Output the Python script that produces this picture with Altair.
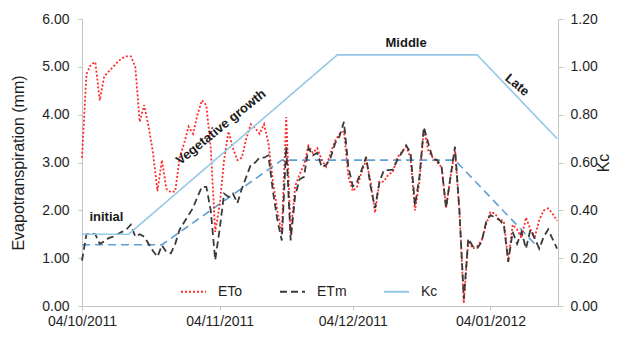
import altair as alt
import pandas as pd

# Daily reference (ETo) and maximum (ETm) evapotranspiration, mm/day, from 4 Oct 2011
start_date = "2011-10-04"
eto = [3.10, 4.85, 5.05, 5.10, 4.30, 4.80, 4.90, 5.00, 5.10, 5.18,
       5.22, 5.22, 5.00, 3.85, 4.20, 3.75, 3.20, 2.40, 3.05, 2.45,
       2.38, 2.40, 3.10, 3.40, 3.75, 3.60, 4.00, 4.30, 4.20, 3.30,
       1.55, 2.10, 3.05, 3.65, 3.30, 3.05, 3.10, 3.50, 3.80, 3.72,
       3.60, 3.80, 3.40, 2.60, 2.00, 1.50, 3.95, 1.50, 2.50, 2.75,
       2.95, 3.35, 3.20, 3.30, 3.05, 2.91, 3.20, 3.45, 3.60, 3.65,
       2.70, 2.40, 2.50, 2.80, 3.05, 2.60, 1.95, 2.60, 2.60, 2.75,
       2.80, 3.10, 3.22, 3.33, 3.10, 2.00, 2.60, 3.70, 3.25, 3.10,
       3.00, 2.90, 2.05, 2.70, 3.26, 2.00, 0.06, 1.37, 1.20, 1.25,
       1.37, 1.70, 1.97, 1.93, 1.80, 1.78, 0.96, 1.70, 1.60, 1.42,
       1.85, 1.60, 1.45, 1.80, 2.00, 2.04, 1.93, 1.78]
etm = [0.95, 1.50, 1.52, 1.50, 1.30, 1.35, 1.42, 1.45, 1.50, 1.55,
       1.60, 1.70, 1.45, 1.50, 1.45, 1.30, 1.15, 1.03, 1.27, 1.13,
       1.10, 1.30, 1.60, 1.75, 1.90, 2.05, 2.28, 2.49, 2.49, 2.00,
       0.96, 1.60, 2.35, 2.28, 2.35, 2.15, 2.45, 2.70, 2.95, 3.00,
       3.10, 3.10, 3.15, 2.40, 1.80, 1.37, 3.33, 1.37, 2.30, 2.65,
       2.70, 3.30, 3.15, 3.20, 2.90, 2.95, 3.10, 3.40, 3.55, 3.85,
       2.90, 2.50, 2.60, 2.85, 3.12, 2.50, 2.05, 2.60, 2.84, 2.84,
       2.85, 3.05, 3.20, 3.36, 3.20, 2.10, 2.70, 3.74, 3.40, 3.08,
       3.05, 2.90, 2.05, 2.70, 3.33, 2.00, 0.15, 1.41, 1.25, 1.20,
       1.34, 1.75, 1.90, 1.85, 1.80, 1.70, 0.92, 1.55, 1.30, 1.55,
       1.20, 1.60, 1.40, 1.20, 1.45, 1.60, 1.40, 1.20]
dates = pd.date_range(start_date, periods=len(eto), freq="D").strftime("%Y-%m-%d").tolist()

# Crop coefficient by growth stage (right axis)
kc_dates = ["2011-10-04", "2011-10-14T12:00:00Z", "2011-11-30T12:00:00Z", "2012-01-01", "2012-01-19"]
kc_values = [0.30, 0.30, 1.05, 1.05, 0.70]

# Stage curve expressed in mm (dashed blue)
stage_mm_dates = ["2011-10-04", "2011-10-22", "2011-11-18", "2011-12-27", "2012-01-15"]
stage_mm_values = [1.28, 1.28, 3.05, 3.05, 1.20]

# Growth stage names and where they sit
stage_names = ["initial", "Vegetative growth", "Middle", "Late"]
stage_dates = ["2011-10-09T12:00:00Z", "2011-11-04T07:00:00Z", "2011-12-16", "2012-01-10"]
stage_y = [1.86, 3.74, 5.49, 4.62]

series_names = ["ETo", "ETm", "Kc"]
series_colors = ["#ff2a2a", "#3a3a3a", "#93c9e6"]
series_dashes = [[2, 2], [7, 4], [1, 0]]

FONT = "Liberation Sans, Arial, sans-serif"
AXIS_GRAY = "#c4c4c4"
LABEL = "#1e1e1e"

n = len(eto)
et_df = pd.DataFrame({
    "date": dates + dates,
    "value": eto + etm,
    "series": ["ETo"] * n + ["ETm"] * n,
})
kc_df = pd.DataFrame({"date": kc_dates, "value": kc_values, "series": ["Kc"] * len(kc_dates)})
stage_mm_df = pd.DataFrame({"date": stage_mm_dates, "value": stage_mm_values})
label_df = pd.DataFrame({"date": stage_dates, "value": stage_y, "name": stage_names})

x_enc = alt.X(
    "date:T",
    scale=alt.Scale(
        type="utc",
        domain=[alt.DateTime(year=2011, month=10, date=4, utc=True),
                alt.DateTime(year=2012, month=1, date=19, hours=5, utc=True)],
    ),
    axis=alt.Axis(
        values=[alt.DateTime(year=2011, month=10, date=4, utc=True),
                alt.DateTime(year=2011, month=11, date=4, utc=True),
                alt.DateTime(year=2011, month=12, date=4, utc=True),
                alt.DateTime(year=2012, month=1, date=4, utc=True)],
        format="%d/%m/%Y", title=None, grid=False, labelFlush=False,
        labelFontSize=14, labelFont=FONT, labelColor=LABEL, labelPadding=4,
        tickSize=4, tickColor=AXIS_GRAY, domainColor=AXIS_GRAY,
    ),
)

left_axis = alt.Axis(
    values=[0, 1, 2, 3, 4, 5, 6], format=".2f", title="Evapotranspiration (mm)",
    grid=False, labelFontSize=14, labelFont=FONT, labelColor=LABEL, labelPadding=9,
    tickSize=4, tickColor=AXIS_GRAY, domainColor=AXIS_GRAY,
    titleFont=FONT, titleFontSize=16, titleFontWeight="normal", titleColor=LABEL,
    titlePadding=15,
)


def y_left():
    return alt.Y("value:Q", scale=alt.Scale(domain=[0, 6], nice=False), axis=left_axis)


legend = alt.Legend(
    title=None, orient="none", legendX=98, legendY=259, direction="horizontal",
    symbolType="stroke", symbolSize=625, symbolStrokeWidth=2,
    labelFontSize=14, labelFont=FONT, labelColor=LABEL, labelOffset=11,
    columnPadding=33,
)
color_enc = alt.Color("series:N", scale=alt.Scale(domain=series_names, range=series_colors), legend=legend)
dash_enc = alt.StrokeDash("series:N", scale=alt.Scale(domain=series_names, range=series_dashes), legend=legend)

et_lines = alt.Chart(et_df).mark_line(strokeWidth=1.8).encode(
    x=x_enc, y=y_left(), color=color_enc, strokeDash=dash_enc,
    detail="series:N",
)

stage_mm_line = alt.Chart(stage_mm_df).mark_line(
    color="#5e9fd6", strokeWidth=1.6, strokeDash=[8, 5]
).encode(x=x_enc, y=y_left())

text_style = dict(font=FONT, fontSize=13, fontWeight="bold", color="#1a1a1a")
upright = alt.Chart(label_df).transform_filter(
    alt.FieldOneOfPredicate(field="name", oneOf=["initial", "Middle"])
).mark_text(**text_style).encode(x=x_enc, y=y_left(), text="name:N")
rising = alt.Chart(label_df).transform_filter(
    alt.FieldEqualPredicate(field="name", equal="Vegetative growth")
).mark_text(angle=321, **text_style).encode(x=x_enc, y=y_left(), text="name:N")
falling = alt.Chart(label_df).transform_filter(
    alt.FieldEqualPredicate(field="name", equal="Late")
).mark_text(angle=40, **text_style).encode(x=x_enc, y=y_left(), text="name:N")

left = alt.layer(stage_mm_line, et_lines, upright, rising, falling)

kc_line = alt.Chart(kc_df).mark_line(strokeWidth=1.6).encode(
    x=x_enc,
    y=alt.Y(
        "value:Q", scale=alt.Scale(domain=[0, 1.2], nice=False),
        axis=alt.Axis(
            orient="right", values=[0, 0.2, 0.4, 0.6, 0.8, 1.0, 1.2], format=".2f",
            title="Kc", grid=False, labelFontSize=14, labelFont=FONT, labelColor=LABEL,
            labelPadding=7, tickSize=5, tickColor=AXIS_GRAY, domainColor=AXIS_GRAY,
            titleFont=FONT, titleFontSize=16, titleFontWeight="normal", titleColor=LABEL,
            titleAngle=270, titlePadding=14,
        ),
    ),
    color=color_enc, strokeDash=dash_enc,
)

chart = alt.layer(left, kc_line).resolve_scale(y="independent").properties(
    width=476, height=287,
    autosize=alt.AutoSizeParams(type="none"),
    padding={"left": 82, "top": 19, "right": 68, "bottom": 32},
    background="white",
).configure_view(stroke=None)

chart.save("out.html", embed_options={"renderer": "svg", "actions": False})
